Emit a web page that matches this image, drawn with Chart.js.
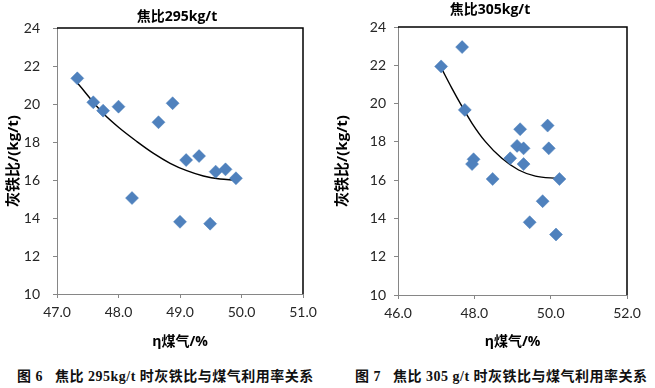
<!DOCTYPE html>
<html>
<head>
<meta charset="utf-8">
<script src="https://cdn.jsdelivr.net/npm/chart.js@4.4.1/dist/chart.umd.min.js"></script>
<style>
  html, body { margin: 0; padding: 0; background: #fff; }
  #wrap { position: relative; width: 655px; height: 388px; overflow: hidden; }
  .cv { position: absolute; top: 0; }
  .cap { position: absolute; top: 368px; font-family: 'Liberation Serif', 'Noto Sans CJK SC', serif; font-weight: bold; font-size: 14px; color: #111; white-space: nowrap; line-height: 18px; letter-spacing: 0.5px; }
</style>
</head>
<body>
<div id="wrap">
  <div class="cv" style="left:0;width:327px;height:350px;"><canvas id="c1" width="327" height="350"></canvas></div>
  <div class="cv" style="left:327px;width:328px;height:350px;"><canvas id="c2" width="328" height="350"></canvas></div>
  <div class="cap" style="left:17px;">图 6</div>
  <div class="cap" style="left:55px;">焦比 295kg/t 时灰铁比与煤气利用率关系</div>
  <div class="cap" style="left:355px;">图 7</div>
  <div class="cap" style="left:393px;">焦比 305 g/t 时灰铁比与煤气利用率关系</div>
</div>
<script>
// ---- Data: coke ratio 295 kg/t ----
const x295 = [47.33, 47.59, 47.75, 48.00, 48.22, 48.65, 48.88, 49.00, 49.10, 49.31, 49.49, 49.58, 49.74, 49.91];
const y295 = [21.35, 20.09, 19.65, 19.86, 15.05, 19.04, 20.04, 13.80, 17.05, 17.26, 13.70, 16.44, 16.56, 16.09];
const trendX295 = [47.33, 47.75, 48.02, 48.30, 48.57, 48.84, 49.11, 49.38, 49.65, 49.88];
const trendY295 = [21.12, 19.51, 18.72, 18.02, 17.40, 16.88, 16.49, 16.21, 16.05, 16.00];

// ---- Data: coke ratio 305 kg/t ----
const x305 = [47.13, 47.68, 47.75, 47.98, 47.94, 48.48, 48.94, 49.12, 49.20, 49.29, 49.29, 49.45, 49.79, 49.92, 49.95, 50.14, 50.23];
const y305 = [21.94, 22.95, 19.67, 17.09, 16.84, 16.06, 17.14, 17.79, 18.66, 17.66, 16.84, 13.80, 14.90, 18.85, 17.66, 13.16, 16.06];
const trendX305 = [47.15, 47.41, 47.68, 47.94, 48.29, 48.72, 49.16, 49.60, 50.18];
const trendY305 = [21.80, 20.81, 19.84, 18.97, 18.01, 17.14, 16.53, 16.21, 16.09];

// ---- Labels ----
const title295 = '焦比295kg/t';
const title305 = '焦比305kg/t';
const xTitle = 'η煤气/%';
const yTitle = '灰铁比/(kg/t)';

const pts = (xs, ys) => xs.map((x, i) => ({ x: x, y: ys[i] }));

const tickFont = { family: "Lato, 'Open Sans', sans-serif", size: 14 };
const boldFont = (s) => ({ family: "'Open Sans', 'Noto Sans CJK SC', sans-serif", size: s, weight: 'bold' });

const framePlugin = {
  id: 'frame',
  afterDraw(chart, args, opts) {
    const { ctx, chartArea: a } = chart;
    ctx.save();
    ctx.strokeStyle = '#000';
    ctx.lineWidth = 1.5;
    ctx.beginPath();
    ctx.moveTo(a.left, a.top);
    ctx.lineTo(a.right, a.top);
    ctx.lineTo(a.right, a.bottom);
    ctx.stroke();
    // chart title, centred where the reference puts it
    ctx.fillStyle = '#000';
    ctx.font = "bold 14px 'Open Sans', 'Noto Sans CJK SC', sans-serif";
    ctx.textAlign = 'center';
    ctx.textBaseline = 'middle';
    ctx.fillText(opts.text, opts.x, opts.y);
    ctx.restore();
  }
};

function makeChart(id, cfg) {
  return new Chart(document.getElementById(id), {
    type: 'scatter',
    data: {
      datasets: [
        {
          data: pts(cfg.xs, cfg.ys),
          pointStyle: 'rectRot',
          pointRadius: 6.5,
          pointHoverRadius: 6.5,
          backgroundColor: '#4F81BD',
          borderColor: '#4A7EBB',
          borderWidth: 0.5
        },
        {
          data: pts(cfg.tx, cfg.ty),
          showLine: true,
          pointRadius: 0,
          borderColor: '#000',
          borderWidth: 1.4,
          cubicInterpolationMode: 'monotone',
          fill: false
        }
      ]
    },
    options: {
      responsive: false,
      animation: false,
      events: [],
      layout: { padding: { left: 0, right: cfg.padRight, top: cfg.padTop, bottom: 0 } },
      plugins: {
        legend: { display: false },
        tooltip: { enabled: false },
        title: { display: false },
        frame: { text: cfg.title, x: cfg.titleX, y: cfg.titleY }
      },
      scales: {
        x: {
          type: 'linear',
          min: cfg.xmin, max: cfg.xmax,
          afterFit(s) { s.height = cfg.xAxisH; },
          ticks: {
            stepSize: cfg.xstep,
            font: tickFont,
            color: '#262626',
            padding: 6,
            maxRotation: 0,
            callback: (v) => Number(v).toFixed(1)
          },
          grid: { display: true, drawOnChartArea: false, drawTicks: true, tickLength: 4, color: '#868686' },
          border: { color: '#868686', width: 1 },
          title: { display: true, text: xTitle, font: boldFont(14), color: '#000', padding: { top: cfg.xTitlePad, bottom: 0 } }
        },
        y: {
          type: 'linear',
          min: 10, max: 24,
          afterFit(s) { s.width = cfg.yAxisW; },
          ticks: { stepSize: 2, font: tickFont, color: '#262626', padding: cfg.yTickPad },
          grid: { display: true, drawOnChartArea: false, drawTicks: true, tickLength: 4, color: '#868686' },
          border: { color: '#868686', width: 1 },
          title: { display: true, text: yTitle, font: boldFont(15), color: '#000', padding: { top: cfg.yTitlePad, bottom: 0 } }
        }
      }
    },
    plugins: [framePlugin]
  });
}

makeChart('c1', {
  xs: x295, ys: y295, tx: trendX295, ty: trendY295,
  title: title295, titleX: 177, titleY: 17,
  xmin: 47, xmax: 51, xstep: 1,
  padRight: 24, padTop: 28,
  xAxisH: 56, yAxisW: 57, xTitlePad: 7.6, yTitlePad: 5, yTickPad: 13
});
makeChart('c2', {
  xs: x305, ys: y305, tx: trendX305, ty: trendY305,
  title: title305, titleX: 163, titleY: 10,
  xmin: 46, xmax: 52, xstep: 2,
  padRight: 28, padTop: 27,
  xAxisH: 55, yAxisW: 71, xTitlePad: 6.6, yTitlePad: 7, yTickPad: 8
});
</script>
</body>
</html>
